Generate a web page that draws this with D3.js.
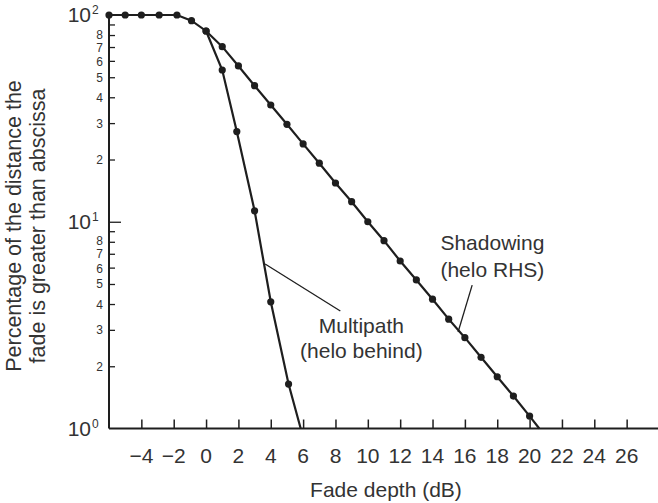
<!DOCTYPE html>
<html>
<head>
<meta charset="utf-8">
<script src="https://cdn.jsdelivr.net/npm/d3@7"></script>
<style>
  body { margin: 0; background: #fff; }
  svg { display: block; font-family: "Liberation Sans", Arial, sans-serif; }
</style>
</head>
<body>
<svg id="chart" width="658" height="503"></svg>
<script>
// values (percent on a log axis)
const shadowX = [-6, -5, -4, -2.9, -1.8, -0.9, 0, 1, 2, 3, 4, 5, 6, 7, 8, 9, 10, 11, 12, 13, 14, 15, 16, 17, 18, 19, 20];
const shadowY = [100, 100, 100, 100, 100, 93.9, 83.7, 70.3, 56.7, 45.5, 36.7, 29.6, 23.8, 19.2, 15.4, 12.5, 10.0, 8.1, 6.46, 5.23, 4.22, 3.38, 2.75, 2.21, 1.78, 1.435, 1.148];
const shadowEnd = [20.6, 1];   // where the line runs into the x axis

const multiX = [0, 1, 1.9, 3, 4, 5.1];
const multiY = [83.7, 54.2, 27.3, 11.3, 4.1, 1.64];
const multiEnd = [5.85, 1];

const xTicks = [-4, -2, 0, 2, 4, 6, 8, 10, 12, 14, 16, 18, 20, 22, 24, 26];
const yMajor = [1, 10, 100];
const yMinor = [2, 3, 4, 5, 6, 7, 8, 9, 20, 30, 40, 50, 60, 70, 80, 90];
const yMinorLabels = [2, 3, 4, 5, 6, 7, 8, 20, 30, 40, 50, 60, 70, 80];

// annotation: text lines and leader lines, in data units
const multiText = ["Multipath", "(helo behind)"];
const multiTextPos = [[9.6, 2.9], [9.6, 2.19]];
const multiLeader = [[3.65, 6.25], [8.3, 3.7]];
const shadowText = ["Shadowing", "(helo RHS)"];
const shadowTextPos = [[17.7, 7.3], [17.7, 5.4]];
const shadowLeader = [[16.45, 4.94], [15.58, 2.93]];

const svg = d3.select("#chart");
const ink = "#1e1e1e";
const textCol = "#333";
const fs = 21;

var xscale = d3.scaleLinear().domain([-6, 28]).range([109, 659]);
var yscale = d3.scaleLog().domain([1, 100]).range([428.5, 15]);

// axes: plain lines, ticks pointing inwards
svg.append("line")
    .attr("x1", xscale(-6)).attr("x2", xscale(28))
    .attr("y1", yscale(1)).attr("y2", yscale(1))
    .attr("stroke", ink).attr("stroke-width", 2);
svg.append("line")
    .attr("x1", xscale(-6)).attr("x2", xscale(-6))
    .attr("y1", yscale(1)).attr("y2", yscale(100))
    .attr("stroke", ink).attr("stroke-width", 2);

var x_axis = d3.axisTop(xscale).tickValues(xTicks).tickSize(9).tickFormat("");
svg.append("g")
    .attr("transform", "translate(0," + yscale(1) + ")")
    .call(x_axis)
    .call(g => g.select(".domain").remove())
    .call(g => g.selectAll("line").attr("stroke", ink).attr("stroke-width", 1.5));

svg.append("g").selectAll("text")
    .data(xTicks)
    .enter()
    .append("text")
        .attr("x", d => xscale(d))
        .attr("y", 463)
        .attr("text-anchor", "middle")
        .attr("font-size", fs)
        .attr("fill", textCol)
        .text(d => d < 0 ? "\u2212" + Math.abs(d) : d);

// y ticks
var y_minor = d3.axisRight(yscale).tickValues(yMinor).tickSize(6).tickFormat("");
svg.append("g")
    .attr("transform", "translate(109,0)")
    .call(y_minor)
    .call(g => g.select(".domain").remove())
    .call(g => g.selectAll("line").attr("stroke", ink).attr("stroke-width", 1.3));
var y_major = d3.axisRight(yscale).tickValues([10]).tickSize(12).tickFormat("");
svg.append("g")
    .attr("transform", "translate(109,0)")
    .call(y_major)
    .call(g => g.select(".domain").remove())
    .call(g => g.selectAll("line").attr("stroke", ink).attr("stroke-width", 1.3));

// the 8,7,6 labels sit very close, spread them a touch
const nudge = {"8": -1, "7": 0, "6": 0.8};
svg.append("g").selectAll("text")
    .data(yMinorLabels)
    .enter()
    .append("text")
        .attr("x", 103)
        .attr("y", d => yscale(d) + 4.5 + (nudge[String(d).charAt(0)] || 0))
        .attr("text-anchor", "end")
        .attr("font-size", 12)
        .attr("fill", textCol)
        .text(d => String(d).charAt(0));

var major = svg.append("g").selectAll("g")
    .data(yMajor)
    .enter()
    .append("g");
major.append("text")
    .attr("x", 91)
    .attr("y", d => yscale(d) + 7)
    .attr("text-anchor", "end")
    .attr("font-size", fs)
    .attr("fill", textCol)
    .text("10");
major.append("text")
    .attr("x", 92)
    .attr("y", d => yscale(d) - 1)
    .attr("font-size", 12)
    .attr("fill", textCol)
    .text(d => Math.round(Math.log10(d)));

// axis titles
svg.append("text")
    .attr("x", 386).attr("y", 497)
    .attr("text-anchor", "middle")
    .attr("font-size", fs)
    .attr("fill", textCol)
    .text("Fade depth (dB)");
svg.append("text")
    .attr("transform", "translate(21,226) rotate(-90)")
    .attr("text-anchor", "middle")
    .attr("font-size", 21.5)
    .attr("fill", textCol)
    .text("Percentage of the distance the");
svg.append("text")
    .attr("transform", "translate(45,226) rotate(-90)")
    .attr("text-anchor", "middle")
    .attr("font-size", 21.5)
    .attr("fill", textCol)
    .text("fade is greater than abscissa");

// curves
var line = d3.line().x(d => xscale(d[0])).y(d => yscale(d[1]));
var shadowPts = shadowX.map((x, i) => [x, shadowY[i]]);
var multiPts = multiX.map((x, i) => [x, multiY[i]]);

svg.append("path")
    .attr("d", line(shadowPts.concat([shadowEnd])))
    .attr("fill", "none").attr("stroke", ink).attr("stroke-width", 2.2);
svg.append("path")
    .attr("d", line(multiPts.concat([multiEnd])))
    .attr("fill", "none").attr("stroke", ink).attr("stroke-width", 2.2);

svg.append("g").selectAll("circle")
    .data(shadowPts.concat(multiPts))
    .enter()
    .append("circle")
        .attr("cx", d => xscale(d[0]))
        .attr("cy", d => yscale(d[1]))
        .attr("r", 3.6)
        .style("fill", ink);

// annotations
function leader(pts) {
    svg.append("line")
        .attr("x1", xscale(pts[0][0])).attr("y1", yscale(pts[0][1]))
        .attr("x2", xscale(pts[1][0])).attr("y2", yscale(pts[1][1]))
        .attr("stroke", ink).attr("stroke-width", 1.3);
}
function label(lines, pos) {
    lines.forEach((t, i) => {
        svg.append("text")
            .attr("x", xscale(pos[i][0]))
            .attr("y", yscale(pos[i][1]))
            .attr("text-anchor", "middle")
            .attr("font-size", fs)
            .attr("fill", textCol)
            .text(t);
    });
}
leader(multiLeader);
leader(shadowLeader);
label(multiText, multiTextPos);
label(shadowText, shadowTextPos);
</script>
</body>
</html>
